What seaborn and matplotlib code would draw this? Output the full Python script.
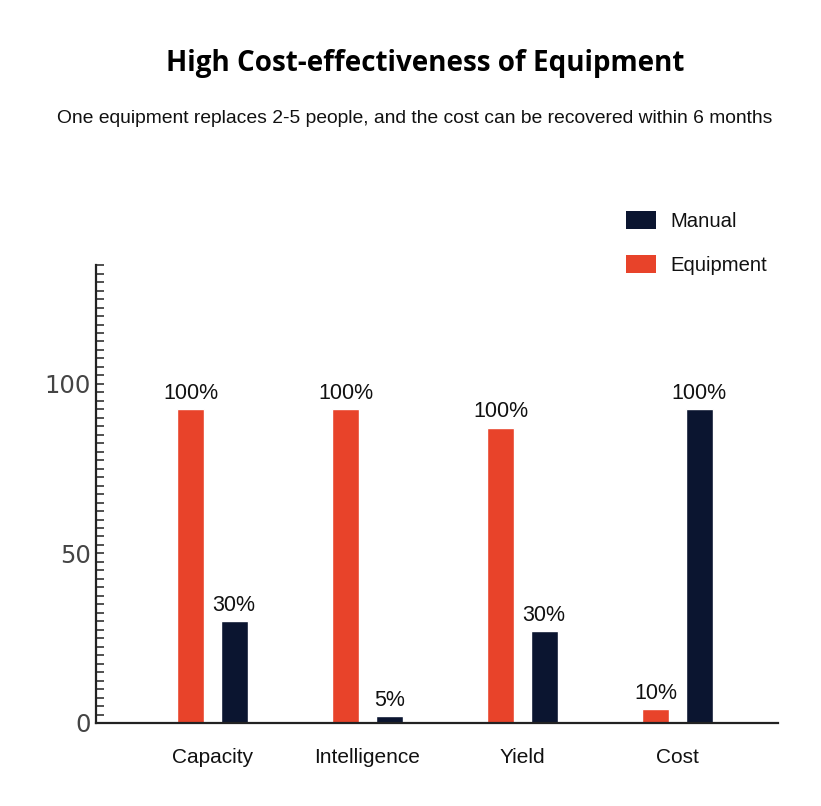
import matplotlib
matplotlib.use("Agg")
import matplotlib.pyplot as plt
from matplotlib.patches import Patch
from matplotlib.ticker import MultipleLocator, FixedLocator
import seaborn as sns
import pandas as pd

categories = ["Capacity", "Intelligence", "Yield", "Cost"]
equipment_values = [92.5, 92.5, 87, 4]
manual_values = [30, 2, 27, 92.5]
equipment_labels = ["100%", "100%", "100%", "10%"]
manual_labels = ["30%", "5%", "30%", "100%"]
series_names = ["Equipment", "Manual"]
y_ticks = [0, 50, 100]

RED = "#e8432a"
NAVY = "#0b1530"

df = pd.DataFrame({
    "category": categories * 2,
    "value": equipment_values + manual_values,
    "series": ["Equipment"] * 4 + ["Manual"] * 4,
})

sns.set_style("white")
plt.rcParams["font.family"] = ["Liberation Sans", "DejaVu Sans"]

fig = plt.figure(figsize=(8.21, 8.06), dpi=100)
ax = fig.add_axes([0.117, 0.103, 0.831, 0.568])

sns.barplot(data=df, x="category", y="value", hue="series", order=categories,
            hue_order=series_names, palette=[RED, NAVY], width=0.56, gap=0.38,
            saturation=1, legend=False, ax=ax, errorbar=None)

for container, labels in zip(ax.containers, [equipment_labels, manual_labels]):
    ax.bar_label(container, labels=labels, padding=4, fontsize=15.5, color="#111111")

ax.set_xlim(-0.75, 3.65)
ax.set_ylim(0, 135)
ax.set_xlabel("")
ax.set_ylabel("")

for s in ["top", "right"]:
    ax.spines[s].set_visible(False)
for s in ["left", "bottom"]:
    ax.spines[s].set_color("#222222")
    ax.spines[s].set_linewidth(1.6)

ax.yaxis.set_major_locator(FixedLocator(y_ticks))
ax.yaxis.set_minor_locator(MultipleLocator(2.5))
ax.tick_params(axis="y", which="both", direction="in", length=6, width=1.2,
               color="#333333", left=True)
ax.tick_params(axis="y", which="major", labelsize=17.5, labelcolor="#444444", pad=4)
for lbl in ax.get_yticklabels():
    lbl.set_fontfamily("DejaVu Sans")
ax.tick_params(axis="x", which="both", length=0, labelsize=15, labelcolor="#111111", pad=18)

handles = [Patch(facecolor=NAVY, edgecolor="none", label="Manual"),
           Patch(facecolor=RED, edgecolor="none", label="Equipment")]
fig.legend(handles=handles, loc="upper left", bbox_to_anchor=(0.753, 0.748),
           frameon=False, fontsize=14.6, handlelength=1.45, handleheight=1.0,
           labelspacing=1.15, handletextpad=0.7, borderaxespad=0,
           labelcolor="#111111")

fig.text(0.518, 0.921, "High Cost-effectiveness of Equipment", ha="center", va="center",
         fontsize=20, fontweight="bold", family=["Open Sans", "DejaVu Sans"], color="#000000")
fig.text(0.505, 0.853, "One equipment replaces 2-5 people, and the cost can be recovered within 6 months",
         ha="center", va="center", fontsize=13.9, color="#111111")

fig.savefig("out.png", dpi=100, facecolor="white")
